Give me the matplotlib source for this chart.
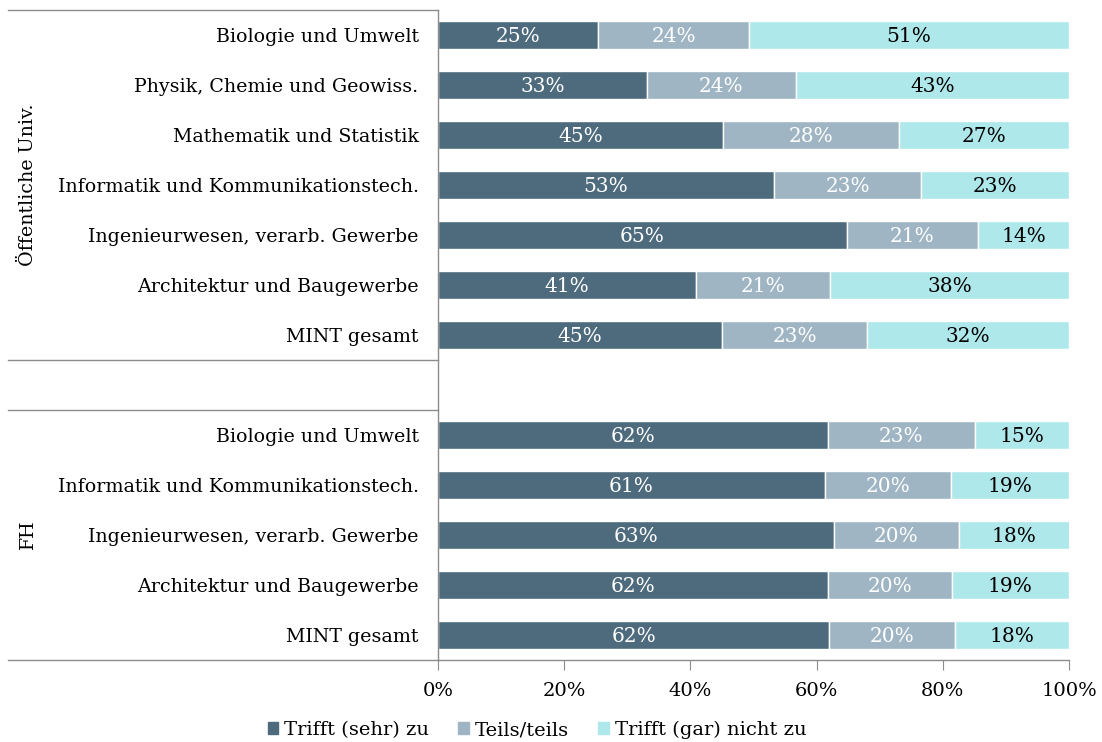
import matplotlib
matplotlib.use("Agg")
import matplotlib.pyplot as plt
from matplotlib.lines import Line2D
import numpy as np

plt.rcParams['font.family'] = ['DejaVu Serif']

categories = [
    "Biologie und Umwelt",
    "Physik, Chemie und Geowiss.",
    "Mathematik und Statistik",
    "Informatik und Kommunikationstech.",
    "Ingenieurwesen, verarb. Gewerbe",
    "Architektur und Baugewerbe",
    "MINT gesamt",
    "",
    "Biologie und Umwelt",
    "Informatik und Kommunikationstech.",
    "Ingenieurwesen, verarb. Gewerbe",
    "Architektur und Baugewerbe",
    "MINT gesamt",
]
# shares in percent; the empty slot separates the two groups
trifft_zu = [25.4, 33.1, 45.2, 53.2, 64.8, 40.9, 45.0, np.nan, 61.8, 61.3, 62.8, 61.8, 62.0]
teils = [23.9, 23.6, 27.9, 23.4, 20.8, 21.2, 23.0, np.nan, 23.3, 20.0, 19.7, 19.6, 19.9]
nicht_zu = [50.7, 43.3, 26.9, 23.4, 14.4, 37.9, 32.0, np.nan, 14.9, 18.7, 17.6, 18.6, 18.1]

series_names = ["Trifft (sehr) zu", "Teils/teils", "Trifft (gar) nicht zu"]
colors = ["#4e6a7d", "#9fb5c3", "#aee8ea"]
text_colors = ["white", "white", "black"]
groups = [("Öffentliche Univ.", 0, 6), ("FH", 8, 12)]
xticks = [0, 20, 40, 60, 80, 100]

W, H = 1102, 742
fig = plt.figure(figsize=(W / 100, H / 100), dpi=100)
ax = fig.add_axes([438 / W, 1 - 660 / H, (1069 - 438) / W, 650 / H])

y = np.arange(len(categories))
left = np.zeros(len(categories))
fs = 13.7
grid_grey = "#8c8c8c"
for vals, c, tc, name in zip([trifft_zu, teils, nicht_zu], colors, text_colors, series_names):
    v = np.array(vals, dtype=float)
    mask = ~np.isnan(v)
    ax.barh(y[mask], v[mask], left=left[mask], height=0.56, color=c,
            edgecolor="white", linewidth=1.0, label=name)
    for yi, li, vi in zip(y[mask], left[mask], v[mask]):
        ax.text(li + vi / 2, yi + 0.03, f"{vi:.0f}%", ha="center", va="center",
                color=tc, fontsize=14.5)
    left[mask] += v[mask]

ax.set_xlim(0, 100)
ax.set_ylim(len(categories) - 0.5, -0.5)
ax.set_yticks(y)
ax.set_yticklabels(categories, fontsize=fs)
ax.tick_params(axis="y", length=0, pad=14)
ax.set_xticks(xticks)
ax.set_xticklabels([f"{t}%" for t in xticks], fontsize=14)
ax.tick_params(axis="x", length=7, color=grid_grey, pad=9)
for s in ["top", "right"]:
    ax.spines[s].set_visible(False)
for s in ["left", "bottom"]:
    ax.spines[s].set_color(grid_grey)
    ax.spines[s].set_linewidth(1.0)

# group separators across the label column
x0 = (8 - 438) / (1069 - 438)
for yy in [-0.5, 6.5, 7.5, 12.5]:
    ax.add_line(Line2D([x0, 0], [yy, yy], transform=ax.get_yaxis_transform(),
                       color=grid_grey, linewidth=1.0, clip_on=False))
for name, a, b in groups:
    ax.text(x0 + (28 - 8) / 631, (a + b) / 2, name, rotation=90, ha="center",
            va="center", fontsize=fs, transform=ax.get_yaxis_transform())

handles = [plt.Rectangle((0, 0), 1, 1, color=c) for c in colors]
fig.legend(handles, series_names, loc="center", bbox_to_anchor=(537 / W, 1 - 730 / H),
           ncol=3, frameon=False, fontsize=14, handlelength=0.55, handleheight=0.55,
           handletextpad=0.3, columnspacing=1.5)

fig.savefig("out.png", dpi=100)
